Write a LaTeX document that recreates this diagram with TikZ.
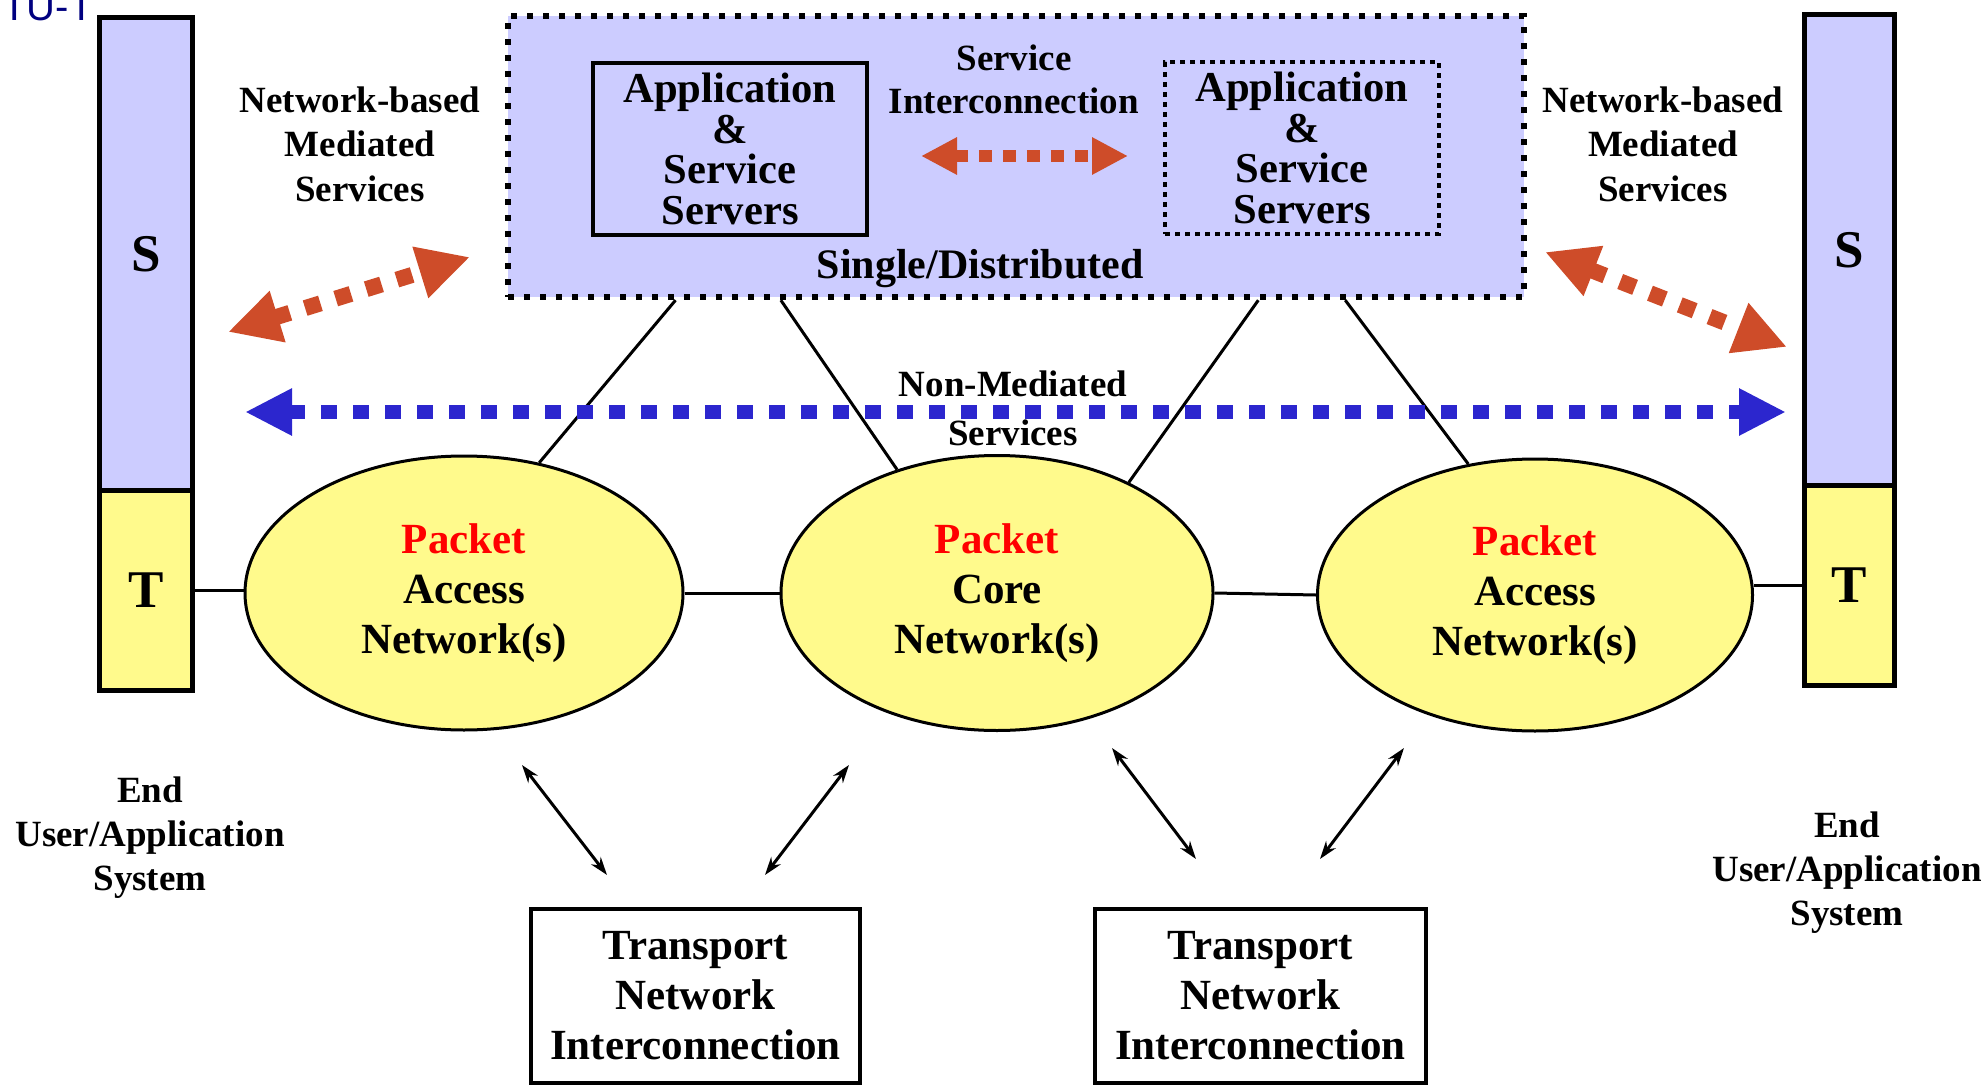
\documentclass[tikz,border=0pt]{standalone}
\usepackage{fontspec}
\setmainfont{Liberation Serif}
\newfontfamily\itufont{Liberation Sans}
\usetikzlibrary{arrows.meta,shapes.geometric,calc}
\definecolor{lav}{RGB}{204,204,255}
\definecolor{ylw}{RGB}{255,250,140}
\definecolor{blu}{RGB}{44,38,206}
\definecolor{org}{RGB}{206,76,41}
\definecolor{navy}{RGB}{0,0,128}
\newcommand\myfs[2]{\fontsize{#1}{#2}\selectfont\bfseries}
\begin{document}
\begin{tikzpicture}[x=0.5pt,y=-0.5pt,
  barbox/.style={draw, line width=2.5pt, inner sep=0pt, font=\myfs{26.5pt}{30pt}},
  net/.style={ellipse, draw, line width=1.5pt, fill=ylw, inner sep=0pt, align=center, font=\myfs{21.5pt}{25pt}},
  appbox/.style={draw, line width=2pt, inner sep=0pt, minimum width=137pt, minimum height=86pt, align=center, font=\myfs{21.3pt}{20.3pt}},
  trbox/.style={draw, line width=2pt, inner sep=0pt, minimum height=87pt, align=center, font=\myfs{21.5pt}{25pt}},
  lbl/.style={inner sep=0pt, align=center, font=\myfs{18.5pt}{22.25pt}},
  conn/.style={line width=1.5pt},
  bluearrow/.style={draw=blu, line width=7pt, dash pattern=on 8pt off 8pt, {Triangle[length=23.5pt,width=22pt]}-{Triangle[length=23.5pt,width=22pt]}},
  orgarrow/.style={draw=org, line width=8pt, dash pattern=on 8pt off 8pt, {Triangle[length=26pt,width=25pt]}-{Triangle[length=26pt,width=25pt]}},
  orgsmall/.style={draw=org, line width=6pt, dash pattern=on 6.5pt off 5.5pt, {Triangle[length=18pt,width=17.5pt]}-{Triangle[length=18pt,width=17.5pt]}},
  blkarrow/.style={line width=1.5pt, {Stealth[length=9pt,width=6pt]}-{Stealth[length=9pt,width=6pt]}}
]
\useasboundingbox (0,0) rectangle (1986,1086);

% ITU-T mark (clipped at the page edge, as in the reference)
\node[anchor=base east, inner sep=0pt, text=navy, font=\itufont\fontsize{20pt}{22pt}\selectfont] (itu) at (94,21) {ITU-T};

% end user bars
\node[barbox, fill=lav, minimum width=46.5pt, minimum height=236.25pt] (Sl) at (146,253.75) {S};
\node[barbox, fill=ylw, minimum width=46.5pt, minimum height=100.25pt] (Tl) at (146,590.5) {T};
\node[barbox, fill=lav, minimum width=45pt, minimum height=235.25pt] (Sr) at (1849.5,249.75) {S};
\node[barbox, fill=ylw, minimum width=45pt, minimum height=100.25pt] (Tr) at (1849.5,585.25) {T};

% server box
\node[draw, fill=lav, line width=3.2pt, dash pattern=on 3.2pt off 4.8pt, minimum width=508pt, minimum height=140.5pt, inner sep=0pt] (srv) at (1016,156.5) {};
\node[appbox] (app1) at (730,149) {Application\\\&\\Service\\Servers};
\node[appbox, dash pattern=on 2.5pt off 2.5pt] (app2) at (1302,148) {Application\\\&\\Service\\Servers};
\node[lbl, font=\myfs{18.5pt}{21.5pt}] (si) at (1014,79) {Service\\Interconnection};
\node[lbl, font=\myfs{21pt}{24pt}] (sd) at (980,269) {Single/Distributed};

% networks
\node[net, minimum width=219pt, minimum height=137pt] (E1) at (464,593) {\textcolor{red}{Packet}\\Access\\Network(s)};
\node[net, minimum width=216pt, minimum height=137.5pt] (E2) at (997,593) {\textcolor{red}{Packet}\\Core\\Network(s)};
\node[net, minimum width=217.5pt, minimum height=136pt] (E3) at (1535,595) {\textcolor{red}{Packet}\\Access\\Network(s)};

% connectors
\draw[conn] (Tl.east) -- (Tl.east -| E1.west);
\draw[conn] (E1.east) -- (E2.west);
\draw[conn] (E2.east) -- (E3.west);
\draw[conn] (Tr.west) -- (Tr.west -| E3.east);
\draw[conn] ($(srv.south west)!0.167!(srv.south east)$) -- (E1.60);
\draw[conn] ($(srv.south west)!0.270!(srv.south east)$) -- (E2.129);
\draw[conn] ($(srv.south west)!0.737!(srv.south east)$) -- (E2.40);
\draw[conn] ($(srv.south west)!0.822!(srv.south east)$) -- (E3.117);

% labels
\node[lbl] (nbl) at (360,144) {Network-based\\Mediated\\Services};
\node[lbl] (nbr) at (1663,144) {Network-based\\Mediated\\Services};
\node[lbl, font=\myfs{18.5pt}{24.5pt}] (nm) at (1013,408) {Non-Mediated\\Services};
\node[lbl, font=\myfs{18.5pt}{22pt}] (eul) at (150,838) {End\\User/Application\\System};
\node[lbl, font=\myfs{18.5pt}{22pt}] (eur) at (1847,873) {End\\User/Application\\System};

% transport boxes
\node[trbox, minimum width=164.5pt] (tr1) at (695.5,996) {Transport\\Network\\Interconnection};
\node[trbox, minimum width=165.5pt] (tr2) at (1260.5,996) {Transport\\Network\\Interconnection};

% service arrows
\coordinate (b1) at (245,412); \coordinate (b2) at (1786,412);
\draw[bluearrow] (b1) -- (b2);
\coordinate (o1a) at (228,332); \coordinate (o1b) at (470,257);
\draw[orgarrow] (o1a) -- (o1b);
\coordinate (o2a) at (1545,252); \coordinate (o2b) at (1787,347);
\draw[orgarrow] (o2a) -- (o2b);
\coordinate (o3a) at (921,156); \coordinate (o3b) at (1128,156);
\draw[orgsmall] (o3a) -- (o3b);

% transport arrows
\coordinate (k1a) at (522,765); \coordinate (k1b) at (607,875);
\coordinate (k2a) at (849,765); \coordinate (k2b) at (765,875);
\coordinate (k3a) at (1112,748); \coordinate (k3b) at (1196,859);
\coordinate (k4a) at (1404,748); \coordinate (k4b) at (1320,859);
\draw[blkarrow] (k1a) -- (k1b);
\draw[blkarrow] (k2a) -- (k2b);
\draw[blkarrow] (k3a) -- (k3b);
\draw[blkarrow] (k4a) -- (k4b);
\end{tikzpicture}
\end{document}
